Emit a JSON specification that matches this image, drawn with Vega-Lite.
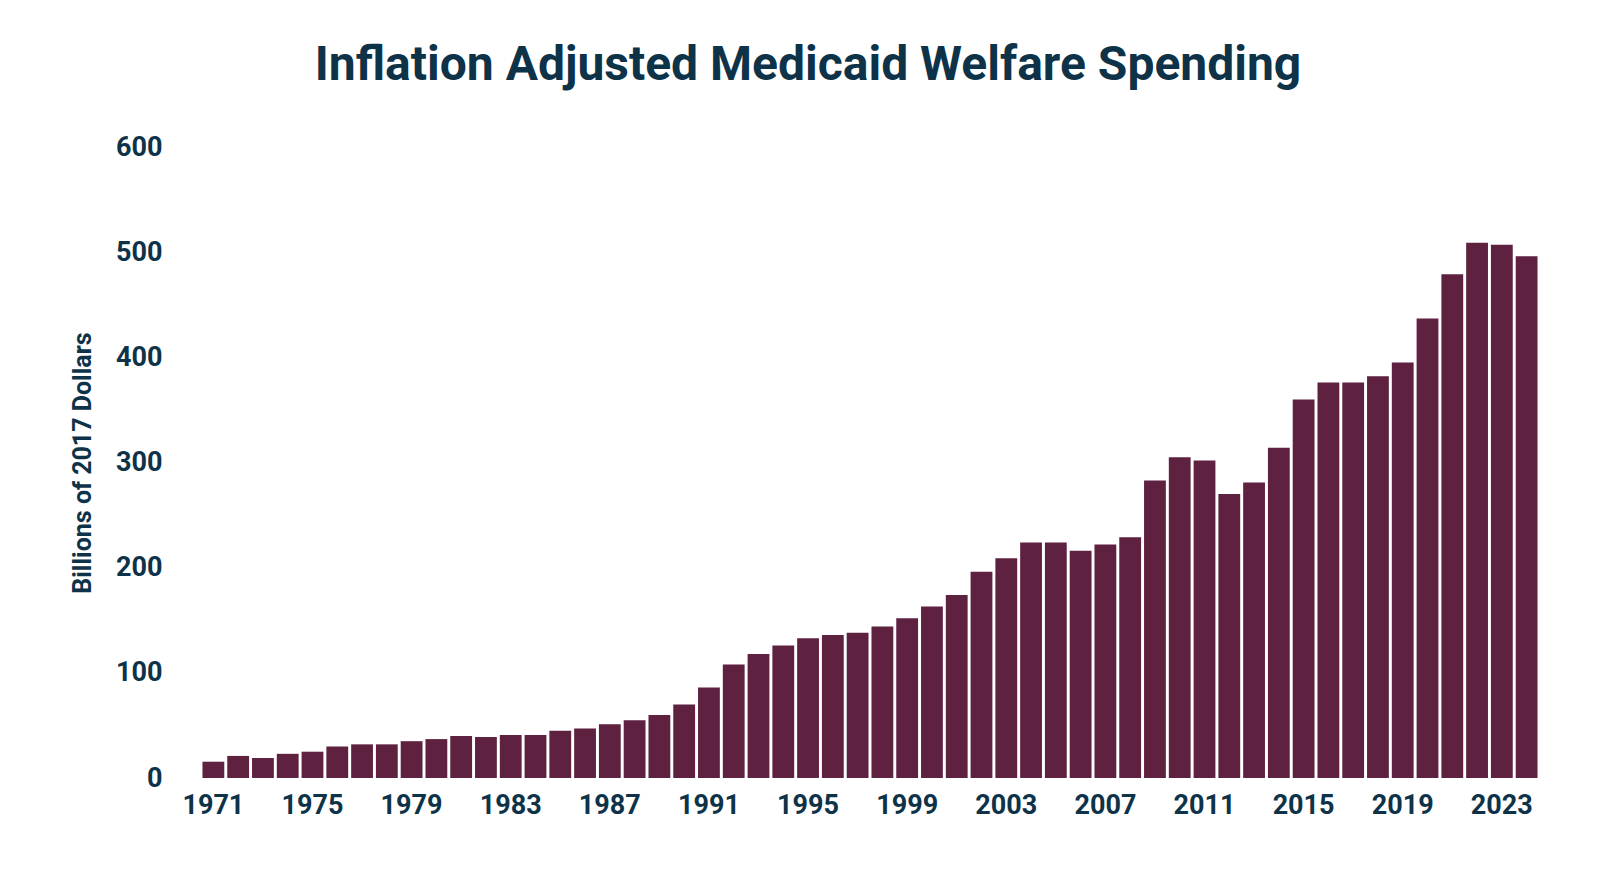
{
  "$schema": "https://vega.github.io/schema/vega-lite/v6.json",
  "width": 1600, "height": 869,
  "autosize": {"type": "fit", "contains": "padding"},
  "padding": {"left": 70, "right": 60, "top": 42, "bottom": 51},
  "background": "white",
  "title": {"text": "Inflation Adjusted Medicaid Welfare Spending", "fontSize": 48, "font": "Roboto", "fontWeight": "bold", "color": "#0e3349", "offset": 43, "anchor": "middle", "dx": -62},
  "data": {"values": [
    {"year":"1971","v":15.5},{"year":"1972","v":21},{"year":"1973","v":19},{"year":"1974","v":23},{"year":"1975","v":25},
    {"year":"1976","v":30},{"year":"1977","v":32},{"year":"1978","v":32},{"year":"1979","v":35},{"year":"1980","v":37},
    {"year":"1981","v":40},{"year":"1982","v":39},{"year":"1983","v":41},{"year":"1984","v":41},{"year":"1985","v":45},
    {"year":"1986","v":47},{"year":"1987","v":51},{"year":"1988","v":55},{"year":"1989","v":60},{"year":"1990","v":70},
    {"year":"1991","v":86},{"year":"1992","v":108},{"year":"1993","v":118},{"year":"1994","v":126},{"year":"1995","v":133},
    {"year":"1996","v":136},{"year":"1997","v":138},{"year":"1998","v":144},{"year":"1999","v":152},{"year":"2000","v":163},
    {"year":"2001","v":174},{"year":"2002","v":196},{"year":"2003","v":209},{"year":"2004","v":224},{"year":"2005","v":224},
    {"year":"2006","v":216},{"year":"2007","v":222},{"year":"2008","v":229},{"year":"2009","v":283},{"year":"2010","v":305},
    {"year":"2011","v":302},{"year":"2012","v":270},{"year":"2013","v":281},{"year":"2014","v":314},{"year":"2015","v":360},
    {"year":"2016","v":376},{"year":"2017","v":376},{"year":"2018","v":382},{"year":"2019","v":395},{"year":"2020","v":437},
    {"year":"2021","v":479},{"year":"2022","v":509},{"year":"2023","v":507},{"year":"2024","v":496}
  ]},
  "mark": {"type": "bar", "color": "#5e2140"},
  "encoding": {
    "x": {"field": "year", "type": "ordinal", "title": null,
      "scale": {"paddingInner": 0.12, "paddingOuter": 0.1},
      "axis": {"labelAngle": 0, "domain": false, "ticks": false, "labelFontSize": 27, "labelFont": "Roboto", "labelFontWeight": "bold", "labelColor": "#0e3349", "labelPadding": 14,
        "labelExpr": "(+datum.value - 1971) % 4 == 0 ? datum.value : ''"}},
    "y": {"field": "v", "type": "quantitative", "title": "Billions of 2017 Dollars",
      "scale": {"domain": [0, 600]},
      "axis": {"values": [0,100,200,300,400,500,600], "grid": false, "domain": false, "ticks": false, "labelFontSize": 27, "labelFont": "Roboto", "labelFontWeight": "bold", "labelColor": "#0e3349", "labelPadding": 38,
        "titleFontSize": 25, "titleFont": "Roboto", "titleFontWeight": "bold", "titleColor": "#0e3349", "titlePadding": 20}}
  },
  "config": {"view": {"stroke": null}}
}
